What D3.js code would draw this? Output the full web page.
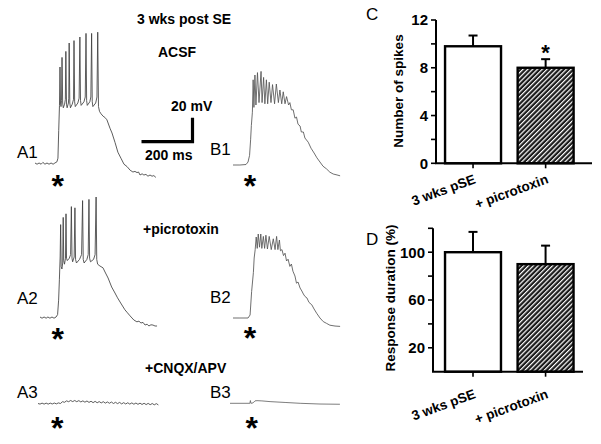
<!DOCTYPE html>
<html>
<head>
<meta charset="utf-8">
<script src="https://cdn.jsdelivr.net/npm/d3@7"></script>
<style>
  html, body { margin: 0; padding: 0; background: #fff; }
  svg { display: block; }
  text { font-family: "Liberation Sans", Arial, sans-serif; }
</style>
</head>
<body>
<svg id="fig" width="601" height="444"></svg>
<script>
// ---------------- DATA ----------------
// Traces: [time (ms), voltage relative to baseline (mV)]
const traceA1 = [[0,0],[8,-1],[16,0],[24,-1],[31,0.5],[39,-1],[47,0],[55,-1],[63,0],[71,-1],[78,0],[86,1],[90,4],[93,27],[96,48],
  [98,80],[100,50],[102,47],[104,52],[106,88],[108.5,50],[111,46],[116,49],[119,53],[121,93],[123.5,49],[126,46],[131,50],[132.5,54],
  [134,100],[136.5,50],[139,46],[146,49],[151,53],[153,102],[155.5,51],[158,47],[168,50],[173,54],[176,105],[178.5,52],[181,48],
  [192,51],[197,55],[200,108],[202.5,52],[205,48],[215,51],[219,55],[222,108],[224.5,51],[227,47],[238,50],[243,55],[246,109],
  [249,47],[253,43],[259,41],[267,39],[274,38],[282,36],[294,29],[302,25],[314,17],[325,9],[337,4],[349,-1],
  [361,-3],[373,-6],[384,-7.5],[392,-7],[400,-8],[406,-7.5],[412,-10],[420,-9],[427,-10],[435,-9.5],[443,-11],[451,-10],[459,-11],[466,-10.5],[474,-12]];
const traceA2 = [[0,0],[8,-1],[16,0],[24,-1],[31,0],[39,-1],[47,0],[55,-1],[63,0],[69,2],[73,14],[76,31],[79,50],
  [81,77],[83,42],[86,40],[89,45],[91,83],[93,47],[96,44],[100,49],[102,86],[104,49],[107,47],[115,49],[120,52],[123,92],
  [125.5,49],[128,46],[134,50],[137,91],[139.5,48],[143,45],[155,48],[163,52],[167,97],[169.5,48],[173,45],[184,48],[189,52],
  [192,98],[194.5,49],[198,46],[210,48],[216,52],[220,100],[222.5,48],[226,44],
  [235,42.5],[247,41],[255,37.5],[267,32.5],[281,25],[294,20],[304,16],[314,12.5],[333,6],[343,3.5],[353,1],[368,-2.5],[380,-4],
  [388,-3.5],[396,-5],[404,-4.5],[412,-6.7],[420,-6],[427,-7.5],[435,-6.5],[443,-6.7],[451,-7.5],[459,-7.5]];
const traceA3 = [[0,0],[8,-0.5],[16,0.3],[24,-0.5],[32,0.3],[40,-0.5],[48,0.3],[56,-0.4],[64,0.4],[72,-0.3],[80,0.5],[88,0],[96,1.5],
  [104,1],[112,2.2],[120,1.5],[128,2.5],[136,1.6],[144,2.5],[152,1.5],[160,2.4],[168,1.3],[176,2.2],[184,1.1],[192,2.1],[200,0.9],
  [208,1.9],[216,0.7],[224,1.8],[232,0.6],[240,1.6],[248,0.5],[256,1.5],[264,0.3],[272,1.3],[280,0.2],[288,1.2],[296,0],[304,1.0],
  [312,-0.1],[320,0.9],[328,-0.3],[336,0.7],[344,-0.4],[352,0.6],[360,-0.5],[368,0.5],[376,-0.6],[384,0.4],[392,-0.7],[400,0.3],
  [408,-0.8],[416,0.2],[424,-0.9],[432,0.1],[440,-1],[448,0],[456,-1.1],[464,-0.1],[472,-1.2]];
const traceB1 = [[0,0],[27,0],[51,0.4],[59,2.5],[65,8],[69,21],[72,33],[76,44],[79,71],[82,48],[86,75],[90,50],[96,77],[102,52],
  [110,78],[114,52],[120,73],[125,51],[131,71],[136,51],[142,69],[149,52],[155,67],[163,51],[170,67.5],[178,52],[184,62.5],[191,51],
  [197,61],[204,51],[210,57],[218,50],[223,52],[229,46],[236,46],[243,39],[249,40],[255,34],[263,32.5],[268,27.5],[276,27.5],
  [282,22.5],[295,19],[306,14],[318,10],[329,6],[341,2.5],[353,-1],[367,-3.3],[380,-6],[393,-7.5],[408,-8.3],[420,-9]];
const traceB2 = [[0,0],[27,0],[59,0],[67,2.5],[73,22],[80,38],[83,50],[87,57],[91,67.5],[95,58],[99,70],[104,59],[109,70],[113,58],
  [119,68],[124,58],[129,69],[135,57.5],[142,68],[150,57],[158,66],[165,57],[171,68],[176,57],[182,65],[186,56],[192,57],[198,52],
  [204,54],[210,47.5],[216,49],[223,43],[229,45],[235,39],[243,35],[249,29],[255,30],[263,25],[270,22.5],[276,20],[282,18],[290,16.7],
  [298,13],[309,11],[318,7.5],[328,4],[341,0],[354,-3],[367,-4.5],[380,-6],[400,-6.7],[420,-7]];
const traceB3 = [[0,0],[78,0],[80,2.3],[82,0],[90,0.3],[98,2],[106,2.2],[125,2],[157,1.4],[216,0.7],[275,0],[353,-0.6],[431,-0.8]];

// Scale bar values
const scaleBarMs = 200, scaleBarMv = 20;

// Bar charts
const barCategories = ["3 wks pSE", "+ picrotoxin"];
const spikesMean = [9.8, 8.0];
const spikesErr = [0.9, 0.72];
const spikesTicks = [0, 2, 4, 6, 8, 10, 12];
const spikesTickLabels = [0, 4, 8, 12];
const durationMean = [100, 90];
const durationErr = [17, 15.5];
const durationTicks = [20, 40, 60, 80, 100, 120];
const durationTickLabels = [20, 60, 100];

// ---------------- DRAW ----------------
const svg = d3.select("#fig");
svg.append("rect").attr("width", 601).attr("height", 444).attr("fill", "#fff");

const PX_PER_200MS = 51, PX_PER_20MV = 24;
function traceScales(x0, y0) {
  return {
    x: d3.scaleLinear().domain([0, 200]).range([x0, x0 + PX_PER_200MS]),
    y: d3.scaleLinear().domain([0, 20]).range([y0, y0 - PX_PER_20MV])
  };
}
function drawTrace(data, x0, y0, color, w) {
  const s = traceScales(x0, y0);
  const line = d3.line().x(d => s.x(d[0])).y(d => s.y(d[1]));
  svg.append("path").datum(data).attr("d", line)
    .attr("fill", "none").attr("stroke", color).attr("stroke-width", w)
    .attr("stroke-linejoin", "round");
}
drawTrace(traceA1, 35, 163, "#404040", 0.85);
drawTrace(traceA2, 40, 317, "#404040", 0.85);
drawTrace(traceA3, 38, 403.5, "#404040", 0.85);
drawTrace(traceB1, 233, 165, "#555", 0.85);
drawTrace(traceB2, 233, 318, "#555", 0.85);
drawTrace(traceB3, 230, 403.3, "#666", 0.85);

// scale bar
{
  const s = traceScales(141.5, 141.7);
  svg.append("path")
    .attr("d", `M${s.x(0)},${s.y(0)}H${s.x(scaleBarMs)}V${s.y(scaleBarMv)}`)
    .attr("fill", "none").attr("stroke", "#000").attr("stroke-width", 3.2)
    .attr("stroke-linejoin", "miter");
}

function txt(x, y, s, size, weight, anchor) {
  return svg.append("text").attr("x", x).attr("y", y).text(s)
    .attr("font-size", size).attr("font-weight", weight || "normal")
    .attr("text-anchor", anchor || "start").attr("fill", "#000");
}
txt(137, 24, "3 wks post SE", 14, "bold");
txt(158, 57, "ACSF", 14, "bold");
txt(171, 111, "20 mV", 14, "bold");
txt(145, 160, "200 ms", 14, "bold");
txt(143, 234, "+picrotoxin", 14, "bold");
txt(145, 373, "+CNQX/APV", 14, "bold");

txt(17, 158, "A1", 17);
txt(210, 155, "B1", 17);
txt(17, 304, "A2", 17);
txt(210, 303, "B2", 17);
txt(17, 398, "A3", 17);
txt(210, 398, "B3", 17);

// stimulus asterisks
[[57.7, 178.3], [57.7, 331], [57.3, 420], [250, 178.3], [250, 330], [251.7, 420]].forEach(p => {
  txt(p[0], p[1] + 18.5, "*", 32, "bold", "middle");
});

// hatch pattern
const defs = svg.append("defs");
const pat = defs.append("pattern").attr("id", "hatch").attr("patternUnits", "userSpaceOnUse")
  .attr("width", 3.4).attr("height", 10).attr("patternTransform", "rotate(45)");
pat.append("rect").attr("width", 3.4).attr("height", 10).attr("fill", "#1a1a1a");
pat.append("rect").attr("width", 1.2).attr("height", 10).attr("fill", "#fff");

function barChart(opt) {
  const g = svg.append("g");
  const y = d3.scaleLinear().domain(opt.domain).range([opt.yBottom, opt.yTop]);
  const x = d3.scaleBand().domain(barCategories).range([opt.xLeft, opt.xRight])
    .paddingInner(0.229).paddingOuter(opt.po).align(opt.align);
  opt.means.forEach((m, i) => {
    const c = barCategories[i];
    const cx = x(c) + x.bandwidth() / 2;
    g.append("line").attr("x1", cx).attr("x2", cx).attr("y1", y(m)).attr("y2", y(m + opt.errs[i]))
      .attr("stroke", "#000").attr("stroke-width", 2);
    g.append("line").attr("x1", cx - 4.5).attr("x2", cx + 4.5).attr("y1", y(m + opt.errs[i])).attr("y2", y(m + opt.errs[i]))
      .attr("stroke", "#000").attr("stroke-width", 2);
    g.append("rect").attr("x", x(c)).attr("y", y(m)).attr("width", x.bandwidth())
      .attr("height", y(opt.domain[0]) - y(m))
      .attr("fill", i === 0 ? "#fff" : "url(#hatch)").attr("stroke", "#000").attr("stroke-width", 2.4);
  });
  g.append("line").attr("x1", opt.xLeft).attr("x2", opt.xLeft).attr("y1", y(opt.domain[1])).attr("y2", opt.yBottom)
    .attr("stroke", "#000").attr("stroke-width", 2);
  opt.ticks.forEach(t => {
    g.append("line").attr("x1", opt.xLeft - 5).attr("x2", opt.xLeft).attr("y1", y(t)).attr("y2", y(t))
      .attr("stroke", "#000").attr("stroke-width", 1.6);
  });
  opt.tickLabels.forEach(t => {
    g.append("text").attr("x", opt.xLeft - 8).attr("y", y(t) + 5.3).text(t)
      .attr("font-size", 15).attr("font-weight", "bold").attr("text-anchor", "end");
  });
  g.append("line").attr("x1", opt.xLeft - 1).attr("x2", opt.xRight).attr("y1", opt.yBottom).attr("y2", opt.yBottom)
    .attr("stroke", "#000").attr("stroke-width", 2);
  barCategories.forEach((c, i) => {
    const cx = x(c) + x.bandwidth() / 2;
    g.append("line").attr("x1", cx).attr("x2", cx).attr("y1", opt.yBottom).attr("y2", opt.yBottom + 5)
      .attr("stroke", "#000").attr("stroke-width", 1.6);
    g.append("text").attr("transform", `translate(${cx + 3.5},${opt.yBottom + opt.labelDy}) rotate(-20)`)
      .text(c).attr("font-size", 13.5).attr("font-weight", "bold").attr("text-anchor", "end");
  });
  g.append("text").attr("transform", `translate(${opt.ylabX},${opt.ylabY}) rotate(-90)`)
    .text(opt.ylabel).attr("font-size", 13.5).attr("font-weight", "bold").attr("text-anchor", "middle");
  g.append("text").attr("x", opt.letterX).attr("y", opt.letterY).text(opt.letter).attr("font-size", 17);
  return { x, y };
}

const c = barChart({
  domain: [0, 12], yBottom: 163.3, yTop: 20, xLeft: 436, xRight: 592, po: 0.189, align: 0.33,
  means: spikesMean, errs: spikesErr, ticks: spikesTicks, tickLabels: spikesTickLabels,
  labelDy: 19.5, ylabX: 403, ylabY: 91, ylabel: "Number of spikes", letter: "C", letterX: 366, letterY: 20
});
{
  const cx = c.x(barCategories[1]) + c.x.bandwidth() / 2;
  txt(cx, c.y(spikesMean[1] + spikesErr[1]) + 1, "*", 22, "bold", "middle");
}
barChart({
  domain: [0, 120], yBottom: 371.7, yTop: 228.3, xLeft: 433, xRight: 583, po: 0.148, align: 0.56,
  means: durationMean, errs: durationErr, ticks: durationTicks, tickLabels: durationTickLabels,
  labelDy: 26, ylabX: 395, ylabY: 298, ylabel: "Response duration (%)", letter: "D", letterX: 366, letterY: 245
});
</script>
</body>
</html>
